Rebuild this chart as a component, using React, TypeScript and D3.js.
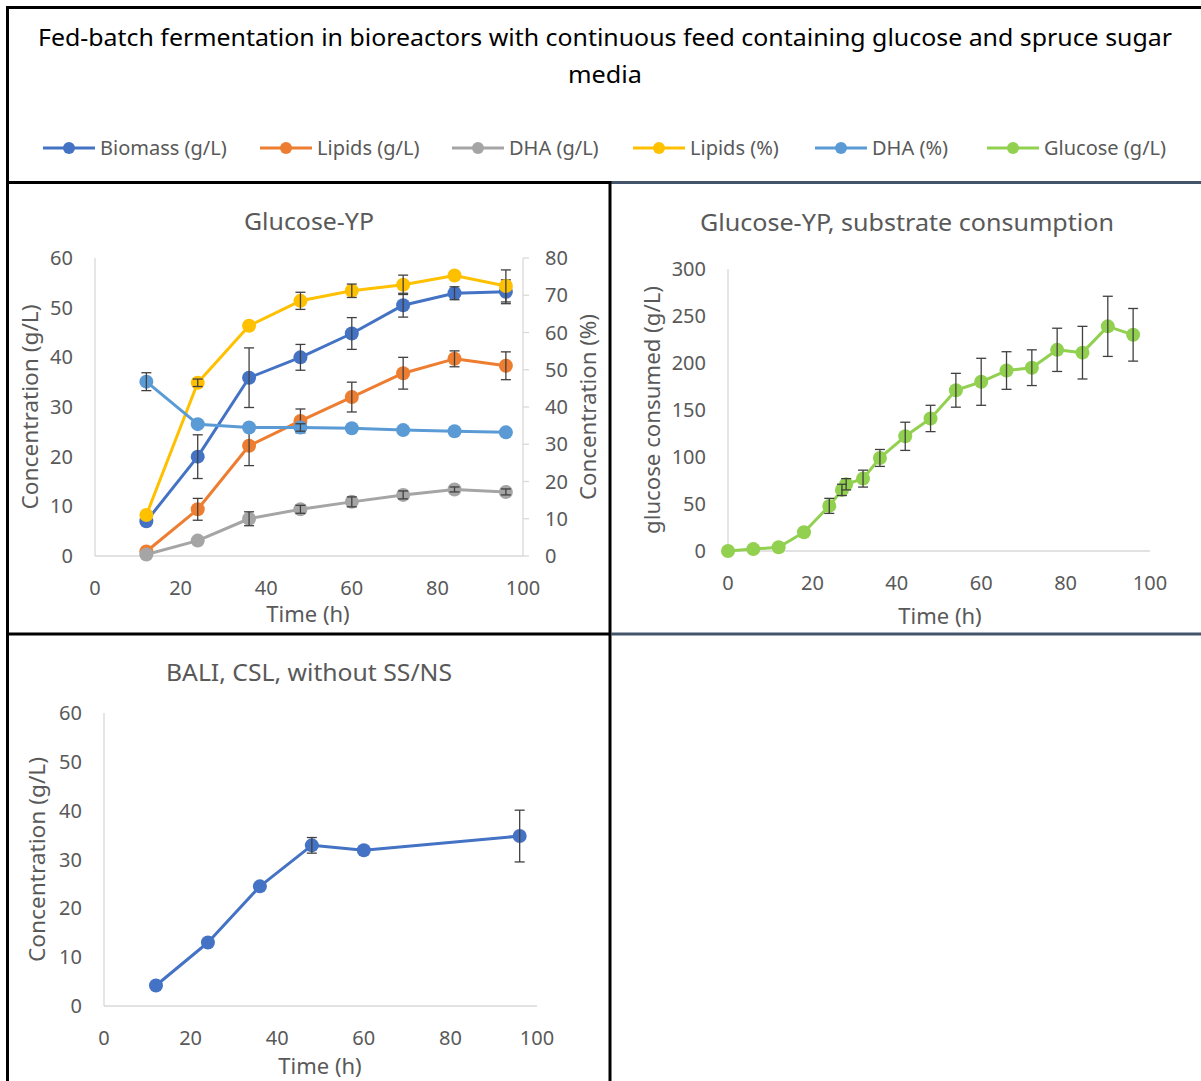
import * as d3 from 'd3'

const FONT = '"Noto Sans", "Open Sans", sans-serif'
const TXT = '#595959'
const AXIS = '#D9D9D9'
const ERR = '#404040'

const COLORS = {
  biomass: '#4472C4',
  lipids: '#ED7D31',
  dha: '#A5A5A5',
  lipidsPct: '#FFC000',
  dhaPct: '#5B9BD5',
  glucose: '#92D050',
}

// Glucose-YP panel
const timeYP = [12, 24, 36, 48, 60, 72, 84, 96]
const biomass = [7.0, 20.0, 35.9, 40.0, 44.8, 50.5, 52.9, 53.2]
const biomassErr = [0, 4.4, 6.0, 2.6, 3.2, 2.4, 1.3, 2.4]
const lipids = [0.9, 9.4, 22.2, 27.2, 32.0, 36.8, 39.7, 38.3]
const lipidsErr = [0, 2.2, 4.0, 2.4, 3.0, 3.2, 1.6, 2.8]
const dha = [0.3, 3.1, 7.5, 9.4, 10.9, 12.3, 13.4, 12.9]
const dhaErr = [0, 0, 1.4, 0.8, 1.0, 0.8, 0.5, 0.6]
const lipidsPct = [11.0, 46.5, 61.8, 68.5, 71.2, 72.8, 75.3, 72.5]
const lipidsPctErr = [0, 1.0, 0, 2.3, 1.8, 2.6, 0, 4.3]
const dhaPct = [46.8, 35.4, 34.5, 34.5, 34.3, 33.8, 33.5, 33.2]
const dhaPctErr = [2.4, 0, 0, 1.0, 0, 0, 0, 0]

// substrate consumption panel
const timeGlc = [0, 6, 12, 18, 24, 27, 28, 32, 36, 42, 48, 54, 60, 66, 72, 78, 84, 90, 96]
const glucose = [0, 2, 4, 20, 48, 65, 71, 77, 99, 122, 141, 171, 180, 192, 195, 214, 211, 239, 230]
const glucoseErr = [0, 0, 0, 0, 8, 6, 6, 9, 9, 15, 14, 18, 25, 20, 19, 23, 28, 32, 28]

// BALI panel
const timeBali = [12, 24, 36, 48, 60, 96]
const bali = [4.2, 13.0, 24.5, 32.9, 31.9, 34.8]
const baliErr = [0, 0, 0, 1.6, 0, 5.3]

const xTicks = [0, 20, 40, 60, 80, 100]
const concTicks = [0, 10, 20, 30, 40, 50, 60]
const pctTicks = [0, 10, 20, 30, 40, 50, 60, 70, 80]
const glcTicks = [0, 50, 100, 150, 200, 250, 300]

const legendItems = [
  { label: 'Biomass (g/L)', color: COLORS.biomass, x: 43 },
  { label: 'Lipids (g/L)', color: COLORS.lipids, x: 260 },
  { label: 'DHA (g/L)', color: COLORS.dha, x: 452 },
  { label: 'Lipids (%)', color: COLORS.lipidsPct, x: 633 },
  { label: 'DHA (%)', color: COLORS.dhaPct, x: 815 },
  { label: 'Glucose (g/L)', color: COLORS.glucose, x: 987 },
]

type Scale = d3.ScaleLinear<number, number>

function Series({ xs, ys, err, x, y, color }: {
  xs: number[]; ys: number[]; err: number[]; x: Scale; y: Scale; color: string
}) {
  const pts = xs.map((t, i) => [t, ys[i]] as [number, number])
  const line = d3.line<[number, number]>((d) => x(d[0]), (d) => y(d[1]))
  return (
    <g>
      <path d={line(pts) ?? ''} fill="none" stroke={color} strokeWidth={3} strokeLinejoin="round" />
      {pts.map((d, i) => (
        <circle key={i} cx={x(d[0])} cy={y(d[1])} r={7} fill={color} />
      ))}
      {pts.map((d, i) =>
        err[i] > 0 ? (
          <g key={'e' + i} stroke={ERR} strokeWidth={1.3}>
            <line x1={x(d[0])} x2={x(d[0])} y1={y(d[1] - err[i])} y2={y(d[1] + err[i])} />
            <line x1={x(d[0]) - 5} x2={x(d[0]) + 5} y1={y(d[1] + err[i])} y2={y(d[1] + err[i])} />
            <line x1={x(d[0]) - 5} x2={x(d[0]) + 5} y1={y(d[1] - err[i])} y2={y(d[1] - err[i])} />
          </g>
        ) : null,
      )}
    </g>
  )
}

function Axes({ x, y, yTicks, title, titleX, titleY, titleLen, yTitle, yTitleX, yTitleLen, xTitleY, xTitleX }: {
  x: Scale; y: Scale; yTicks: number[]; title: string; titleX: number; titleY: number; titleLen: number
  yTitle: string; yTitleX: number; yTitleLen: number; xTitleY: number; xTitleX: number
}) {
  const [x0, x1] = x.range()
  const [y0, y1] = y.range()
  return (
    <g fontFamily={FONT} fill={TXT}>
      <line x1={x0} x2={x0} y1={y0} y2={y1} stroke={AXIS} strokeWidth={1.3} />
      <line x1={x0} x2={x1} y1={y0} y2={y0} stroke={AXIS} strokeWidth={1.3} />
      {yTicks.map((t) => (
        <text key={t} x={x0 - 22} y={y(t) + 7} textAnchor="end" fontSize={20}>{t}</text>
      ))}
      {xTicks.map((t) => (
        <text key={t} x={x(t)} y={y0 + 39} textAnchor="middle" fontSize={20}>{t}</text>
      ))}
      <text x={xTitleX} y={y0 + xTitleY} textAnchor="middle" fontSize={22}>Time (h)</text>
      <text x={titleX} y={titleY} textAnchor="middle" fontSize={23} textLength={titleLen} lengthAdjust="spacingAndGlyphs">{title}</text>
      <text transform={`translate(${yTitleX},${(y0 + y1) / 2}) rotate(-90)`} textAnchor="middle" fontSize={22}
        textLength={yTitleLen} lengthAdjust="spacingAndGlyphs">{yTitle}</text>
    </g>
  )
}

export default function App() {
  // panel 1
  const x1 = d3.scaleLinear().domain([0, 100]).range([95, 523])
  const y1 = d3.scaleLinear().domain([0, 60]).range([556, 258])
  const y1r = d3.scaleLinear().domain([0, 80]).range([556, 258])
  // panel 2
  const x2 = d3.scaleLinear().domain([0, 100]).range([728, 1150])
  const y2 = d3.scaleLinear().domain([0, 300]).range([551, 269])
  // panel 3
  const x3 = d3.scaleLinear().domain([0, 100]).range([104, 537])
  const y3 = d3.scaleLinear().domain([0, 60]).range([1006, 713])

  return (
    <svg width={1201} height={1081} style={{ display: 'block', position: 'absolute', left: 0, top: 0 }}>
      <rect width={1201} height={1081} fill="#fff" />

      {/* header */}
      <g fontFamily={FONT} fill="#000">
        <text x={605} y={46} textAnchor="middle" fontSize={24} textLength={1134} lengthAdjust="spacingAndGlyphs">
          Fed-batch fermentation in bioreactors with continuous feed containing glucose and spruce sugar
        </text>
        <text x={605} y={83} textAnchor="middle" fontSize={24} textLength={74} lengthAdjust="spacingAndGlyphs">media</text>
      </g>
      <g fontFamily={FONT}>
        {legendItems.map((d) => (
          <g key={d.label}>
            <line x1={d.x} x2={d.x + 52} y1={148} y2={148} stroke={d.color} strokeWidth={3} />
            <circle cx={d.x + 26} cy={148} r={6} fill={d.color} />
            <text x={d.x + 57} y={155} fontSize={20} fill={TXT}>{d.label}</text>
          </g>
        ))}
      </g>

      {/* panel 1 */}
      <Axes x={x1} y={y1} yTicks={concTicks} title="Glucose-YP" titleX={309} titleY={230} titleLen={130}
        yTitle="Concentration (g/L)" yTitleX={38} yTitleLen={205} xTitleY={66} xTitleX={308} />
      <g fontFamily={FONT} fill={TXT}>
        <line x1={523} x2={523} y1={556} y2={258} stroke={AXIS} strokeWidth={1.3} />
        {pctTicks.map((t) => (
          <g key={t}>
            <line x1={523} x2={529} y1={y1r(t)} y2={y1r(t)} stroke={AXIS} strokeWidth={1.3} />
            <text x={545} y={y1r(t) + 7} fontSize={20}>{t}</text>
          </g>
        ))}
        <text transform={`translate(596,407) rotate(-90)`} textAnchor="middle" fontSize={22}
          textLength={186} lengthAdjust="spacingAndGlyphs">Concentration (%)</text>
      </g>
      <Series xs={timeYP} ys={biomass} err={biomassErr} x={x1} y={y1} color={COLORS.biomass} />
      <Series xs={timeYP} ys={lipids} err={lipidsErr} x={x1} y={y1} color={COLORS.lipids} />
      <Series xs={timeYP} ys={dha} err={dhaErr} x={x1} y={y1} color={COLORS.dha} />
      <Series xs={timeYP} ys={lipidsPct} err={lipidsPctErr} x={x1} y={y1r} color={COLORS.lipidsPct} />
      <Series xs={timeYP} ys={dhaPct} err={dhaPctErr} x={x1} y={y1r} color={COLORS.dhaPct} />

      {/* panel 2 */}
      <Axes x={x2} y={y2} yTicks={glcTicks} title="Glucose-YP, substrate consumption" titleX={907} titleY={231} titleLen={414}
        yTitle="glucose consumed (g/L)" yTitleX={660} yTitleLen={248} xTitleY={73} xTitleX={940} />
      <Series xs={timeGlc} ys={glucose} err={glucoseErr} x={x2} y={y2} color={COLORS.glucose} />

      {/* panel 3 */}
      <Axes x={x3} y={y3} yTicks={concTicks} title="BALI, CSL, without SS/NS" titleX={309} titleY={681} titleLen={286}
        yTitle="Concentration (g/L)" yTitleX={45} yTitleLen={205} xTitleY={68} xTitleX={320} />
      <Series xs={timeBali} ys={bali} err={baliErr} x={x3} y={y3} color={COLORS.biomass} />

      {/* frame */}
      <g fill="none" strokeWidth={3}>
        <line x1={6} x2={1201} y1={7.5} y2={7.5} stroke="#000" />
        <line x1={7.5} x2={7.5} y1={6} y2={1081} stroke="#000" />
        <line x1={6} x2={611} y1={182.5} y2={182.5} stroke="#000" />
        <line x1={611} x2={1201} y1={182.5} y2={182.5} stroke="#44546A" />
        <line x1={610} x2={610} y1={181} y2={1081} stroke="#000" />
        <line x1={6} x2={611} y1={634} y2={634} stroke="#000" />
        <line x1={611} x2={1201} y1={634} y2={634} stroke="#44546A" />
      </g>
    </svg>
  )
}
